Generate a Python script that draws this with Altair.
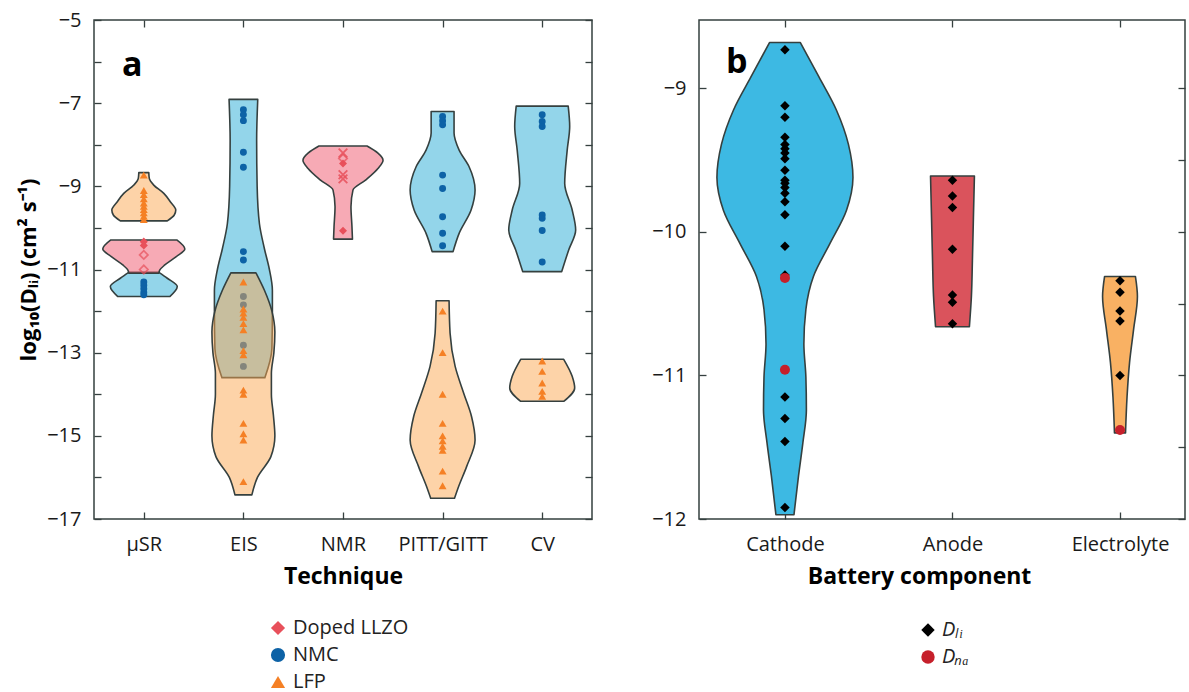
import json
import altair as alt
import pandas as pd

# ---------------- categories ----------------
techniques = ["μSR", "EIS", "NMR", "PITT/GITT", "CV"]
materials = ["Doped LLZO", "NMC", "LFP"]
components = ["Cathode", "Anode", "Electrolyte"]
ions = ["Dₗᵢ", "Dₙₐ"]
panel_tags = ["a", "b"]

# ---------------- panel a: individual log10(D) values ----------------
nmc_values = {
    "μSR": [-11.30, -11.38, -11.46, -11.55, -11.61],
    "EIS": [-7.16, -7.28, -7.42, -8.18, -8.54, -10.57, -10.77, -11.65, -11.85, -12.82, -13.33],
    "PITT/GITT": [-7.32, -7.42, -7.52, -8.73, -9.05, -9.73, -10.13, -10.43],
    "CV": [-7.28, -7.44, -7.56, -9.69, -9.77, -10.06, -10.82],
}
lfp_values = {
    "μSR": [-8.73, -9.10, -9.20, -9.30, -9.40, -9.48, -9.56, -9.64, -9.72, -9.80],
    "EIS": [-11.30, -11.95, -12.05, -12.15, -12.30, -12.45, -12.95, -13.05, -13.90, -14.00,
            -14.70, -14.95, -15.10, -16.10],
    "PITT/GITT": [-12.00, -13.00, -14.00, -14.70, -15.00, -15.12, -15.25, -15.35, -15.85, -16.20],
    "CV": [-13.20, -13.45, -13.73, -13.93, -14.05],
}
llzo_filled = {"μSR": [-10.33, -10.42], "NMR": [-8.45, -10.07]}
llzo_open = {"μSR": [-10.65, -11.00], "NMR": [-8.33]}
llzo_cross = {"NMR": [-8.20, -8.72, -8.82]}

# violin outlines: levels and half-widths (category units)
nmc_violin_y = {
    "μSR": [-11.07, -11.21, -11.41, -11.65],
    "EIS": [-6.91, -7.9, -9.0, -9.9, -10.5, -11.0, -11.5, -12.0, -12.9, -13.6],
    "PITT/GITT": [-7.2, -7.72, -8.13, -8.53, -9.09, -9.57, -10.13, -10.57],
    "CV": [-7.07, -7.56, -8.13, -8.93, -9.57, -10.05, -10.53, -11.05],
}
nmc_violin_w = {
    "μSR": [0.151, 0.236, 0.336, 0.261],
    "EIS": [0.144, 0.133, 0.138, 0.161, 0.211, 0.261, 0.291, 0.291, 0.286, 0.216],
    "PITT/GITT": [0.115, 0.115, 0.166, 0.266, 0.326, 0.286, 0.166, 0.105],
    "CV": [0.261, 0.276, 0.251, 0.226, 0.301, 0.336, 0.266, 0.196],
}
lfp_violin_y = {
    "μSR": [-8.67, -8.81, -8.97, -9.17, -9.37, -9.57, -9.69, -9.83],
    "EIS": [-11.08, -11.5, -12.0, -12.5, -13.0, -13.5, -14.0, -14.5, -15.0, -15.5, -16.0, -16.42],
    "PITT/GITT": [-11.75, -12.53, -13.33, -13.97, -14.54, -15.1, -15.74, -16.22, -16.5],
    "CV": [-13.16, -13.57, -13.85, -14.17],
}
lfp_violin_w = {
    "μSR": [0.050, 0.055, 0.100, 0.201, 0.266, 0.321, 0.306, 0.236],
    "EIS": [0.126, 0.211, 0.286, 0.316, 0.306, 0.281, 0.281, 0.301, 0.316, 0.276, 0.141, 0.085],
    "PITT/GITT": [0.065, 0.075, 0.126, 0.211, 0.291, 0.326, 0.241, 0.161, 0.120],
    "CV": [0.216, 0.301, 0.326, 0.216],
}
llzo_violin_y = {
    "μSR": [-10.29, -10.51, -10.69, -10.89, -11.01, -11.09],
    "NMR": [-8.03, -8.2, -8.37, -8.57, -8.85, -9.09, -9.49, -9.97, -10.27],
}
llzo_violin_w = {
    "μSR": [0.331, 0.412, 0.326, 0.211, 0.161, 0.151],
    "NMR": [0.241, 0.351, 0.402, 0.351, 0.226, 0.100, 0.080, 0.090, 0.095],
}

# ---------------- panel b ----------------
li_values = {
    "Cathode": [-8.73, -9.12, -9.20, -9.34, -9.39, -9.42, -9.45, -9.49, -9.57, -9.64, -9.66,
                -9.69, -9.73, -9.79, -9.88, -10.10, -10.30, -11.15, -11.30, -11.46, -11.92],
    "Anode": [-9.64, -9.75, -9.83, -10.12, -10.44, -10.49, -10.64],
    "Electrolyte": [-10.34, -10.42, -10.55, -10.62, -11.00],
}
na_values = {"Cathode": [-10.32, -10.96], "Electrolyte": [-11.38]}
comp_violin_y = {
    "Cathode": [-8.68, -8.92, -9.15, -9.39, -9.62, -9.85, -10.08, -10.31, -10.54, -10.78,
                -11.01, -11.24, -11.47, -11.70, -11.97],
    "Anode": [-9.61, -9.9, -10.2, -10.45, -10.66],
    "Electrolyte": [-10.31, -10.45, -10.68, -10.91, -11.15, -11.40],
}
comp_violin_w = {
    "Cathode": [0.092, 0.203, 0.307, 0.379, 0.406, 0.367, 0.269, 0.170, 0.125, 0.113,
                0.125, 0.128, 0.107, 0.081, 0.054],
    "Anode": [0.131, 0.125, 0.119, 0.113, 0.101],
    "Electrolyte": [0.092, 0.104, 0.081, 0.057, 0.042, 0.033],
}

# ---------------- styling ----------------
FONT = "Open Sans"
EDGE = "#35403f"
NMC_FILL, LFP_FILL, LLZO_FILL = "#27abd5", "#fba751", "#ef556b"
MAT_COLORS = ["#e8505b", "#0d62a6", "#f58025"]
MAT_SHAPES = ["diamond", "circle", "triangle-up"]
COMP_FILLS = ["#3db9e3", "#da535c", "#f9b163"]
ION_COLORS = ["#000000", "#c6202b"]
ION_SHAPES = ["diamond", "circle"]
TICK = alt.ExprRef(expr="-7")

WA, HA = 498, 499
WB, HB = 486, 499


def point_rows(dct, cats, key, label=None, lkey=None):
    recs = []
    for cat, vals in dct.items():
        for v in vals:
            r = {key: cat, "pos": cats.index(cat) + 1, "value": v}
            if lkey:
                r[lkey] = label
            recs.append(r)
    return pd.DataFrame(recs)


def profile_rows(ydct, wdct, cats, key):
    recs = []
    for cat, ys in ydct.items():
        for v, w in zip(ys, wdct[cat]):
            recs.append({key: cat, "pos": cats.index(cat) + 1, "value": v, "hw": w})
    return pd.DataFrame(recs)


def lab_x(cats, title, **title_pos):
    kw = dict(orient="bottom", values=list(range(1, len(cats) + 1)),
              labelExpr=json.dumps(cats, ensure_ascii=False) + "[round(datum.value) - 1]",
              ticks=True, tickSize=TICK, tickWidth=1.3, tickColor=EDGE,
              domain=False, grid=False, labelPadding=22,
              labelFontSize=20, labelColor="#1a1a1a", labelFlush=False,
              title=title, titleFontSize=23, titleFontWeight="bold",
              titlePadding=11, titleColor="#000")
    kw.update(title_pos)
    return alt.Axis(**kw)


def lab_y(values, label_test, title):
    kw = dict(orient="left", values=values, format="d",
              labelExpr=f"({label_test}) ? datum.label : ''",
              ticks=True, tickSize=TICK, tickWidth=1.3, tickColor=EDGE,
              domain=False, grid=False, labelPadding=20, labelFontSize=20,
              labelColor="#1a1a1a", labelOverlap=False)
    if title:
        kw.update(title=title, titleFontSize=22, titleFontWeight="bold",
                  titlePadding=6, titleColor="#000")
    else:
        kw.update(title=None)
    return alt.Axis(**kw)


def tick_ax(orient, values):
    return alt.Axis(orient=orient, values=values, labels=False, domain=False, grid=False,
                    ticks=True, tickSize=TICK, tickWidth=1.3, tickColor=EDGE, title=None,
                    minExtent=0)


def areas(df, key, xsc, ysc, fill=None, opacity=0.5, fill_enc=None):
    mk = dict(orient="horizontal", interpolate="monotone", stroke=EDGE,
              strokeWidth=1.6, strokeJoin="round", fillOpacity=opacity)
    if fill:
        mk["fill"] = fill
    enc = dict(
        y=alt.Y("value:Q", scale=ysc, axis=None),
        x=alt.X("xl:Q", scale=xsc, axis=None),
        x2="xr:Q",
        detail=f"{key}:N",
    )
    if fill_enc is not None:
        enc["fill"] = fill_enc
    return (alt.Chart(df)
            .transform_calculate(xl="datum.pos - datum.hw", xr="datum.pos + datum.hw")
            .mark_area(**mk).encode(**enc))


def tag(letter, dx, dy):
    return alt.Chart(pd.DataFrame({"tag": [letter]})).mark_text(
        align="left", baseline="alphabetic", fontSize=34, fontWeight="bold", color="#000"
    ).encode(text="tag:N", x=alt.value(dx), y=alt.value(dy))


# ---------------- panel a ----------------
xa = alt.Scale(domain=[0.5, 5.5], nice=False, zero=False)
ya = alt.Scale(domain=[-17, -5], nice=False, zero=False)
a_xvals = list(range(1, 6))
a_yticks = list(range(-17, -4))

legend_a = alt.Legend(orient="none", legendX=174, legendY=598, title=None,
                      labelFontSize=20, labelColor="#222", symbolSize=200,
                      symbolStrokeWidth=0, rowPadding=7, labelOffset=5)
shape_a = alt.Scale(domain=materials, range=MAT_SHAPES)
color_a = alt.Scale(domain=materials, range=MAT_COLORS)


def mat_points(df, size, xaxis, yaxis):
    return alt.Chart(df).mark_point(filled=True, opacity=1, size=size).encode(
        x=alt.X("pos:Q", scale=xa, axis=xaxis),
        y=alt.Y("value:Q", scale=ya, axis=yaxis),
        shape=alt.Shape("material:N", scale=shape_a, legend=legend_a),
        color=alt.Color("material:N", scale=color_a, legend=legend_a),
    )


nmc_df = point_rows(nmc_values, techniques, "tech", "NMC", "material")
lfp_df = point_rows(lfp_values, techniques, "tech", "LFP", "material")
llzo_f_df = point_rows(llzo_filled, techniques, "tech", "Doped LLZO", "material")
llzo_o_df = point_rows(llzo_open, techniques, "tech", "Doped LLZO", "material")
llzo_c_df = point_rows(llzo_cross, techniques, "tech", "Doped LLZO", "material")

ytitle = "log₁₀(Dₗᵢ) (cm² s⁻¹)"

a_layers = [
    areas(profile_rows(nmc_violin_y, nmc_violin_w, techniques, "tech"), "tech", xa, ya, fill=NMC_FILL),
    mat_points(nmc_df, 48, lab_x(techniques, "Technique"),
               lab_y(a_yticks, "abs(datum.value) % 2 == 1", ytitle)),
    areas(profile_rows(llzo_violin_y, llzo_violin_w, techniques, "tech"), "tech", xa, ya, fill=LLZO_FILL),
    mat_points(llzo_f_df, 65, tick_ax("top", a_xvals), tick_ax("right", a_yticks)),
    alt.Chart(llzo_o_df).mark_point(shape="diamond", filled=False, color=MAT_COLORS[0],
                                    strokeWidth=1.7, size=70).encode(
        x=alt.X("pos:Q", scale=xa, axis=None), y=alt.Y("value:Q", scale=ya, axis=None)),
    alt.Chart(llzo_c_df).mark_point(shape="M-1,-1L1,1M1,-1L-1,1", filled=False,
                                    color=MAT_COLORS[0], strokeWidth=1.8, size=75,
                                    opacity=0.85).encode(
        x=alt.X("pos:Q", scale=xa, axis=None), y=alt.Y("value:Q", scale=ya, axis=None)),
    areas(profile_rows(lfp_violin_y, lfp_violin_w, techniques, "tech"), "tech", xa, ya, fill=LFP_FILL),
    mat_points(lfp_df, 62, None, None),
    tag(panel_tags[0], 28, 56),
]

panel_a = alt.layer(*a_layers).resolve_axis(x="independent", y="independent").properties(
    width=WA, height=HA)

# ---------------- panel b ----------------
xb = alt.Scale(domain=[0.487, 3.388], nice=False, zero=False)
yb = alt.Scale(domain=[-12, -8.523], nice=False, zero=False)
b_xvals = [1, 2, 3]
b_yticks = [-12, -11.5, -11, -10.5, -10, -9.5, -9]

legend_b = alt.Legend(orient="none", legendX=219, legendY=600, title=None,
                      labelFontSize=20, labelColor="#222", labelFontStyle="italic",
                      symbolSize=180, symbolStrokeWidth=0, rowPadding=7, labelOffset=4)
shape_b = alt.Scale(domain=ions, range=ION_SHAPES)
color_b = alt.Scale(domain=ions, range=ION_COLORS)

li_df = point_rows(li_values, components, "component", ions[0], "ion")
na_df = point_rows(na_values, components, "component", ions[1], "ion")


def ion_points(df, size, xaxis, yaxis):
    return alt.Chart(df).mark_point(filled=True, opacity=1, size=size).encode(
        x=alt.X("pos:Q", scale=xb, axis=xaxis),
        y=alt.Y("value:Q", scale=yb, axis=yaxis),
        shape=alt.Shape("ion:N", scale=shape_b, legend=legend_b),
        color=alt.Color("ion:N", scale=color_b, legend=legend_b),
    )


b_layers = [
    areas(profile_rows(comp_violin_y, comp_violin_w, components, "component"), "component",
          xb, yb, opacity=1,
          fill_enc=alt.Fill("component:N", scale=alt.Scale(domain=components, range=COMP_FILLS),
                            legend=None)),
    ion_points(li_df, 90,
               lab_x(components, "Battery component", titleX=220, titleY=46,
                     titleAlign="center", titleBaseline="top"),
               lab_y(b_yticks, "datum.value % 1 == 0", None)),
    ion_points(na_df, 100, tick_ax("top", b_xvals), tick_ax("right", b_yticks)),
    tag(panel_tags[1], 27, 53),
]

panel_b = alt.layer(*b_layers).resolve_axis(x="independent", y="independent").properties(
    width=WB, height=HB)

chart = (
    alt.hconcat(panel_a, panel_b, spacing=107, bounds="flush")
    .resolve_scale(color="independent", shape="independent", fill="independent")
    .resolve_legend(color="independent", shape="independent")
    .properties(padding={"left": 16, "top": 9, "right": 0, "bottom": 0})
    .configure(font=FONT)
    .configure_view(stroke=EDGE, strokeWidth=1.5)
)

chart.save("out.html", embed_options={"renderer": "svg", "actions": False})
